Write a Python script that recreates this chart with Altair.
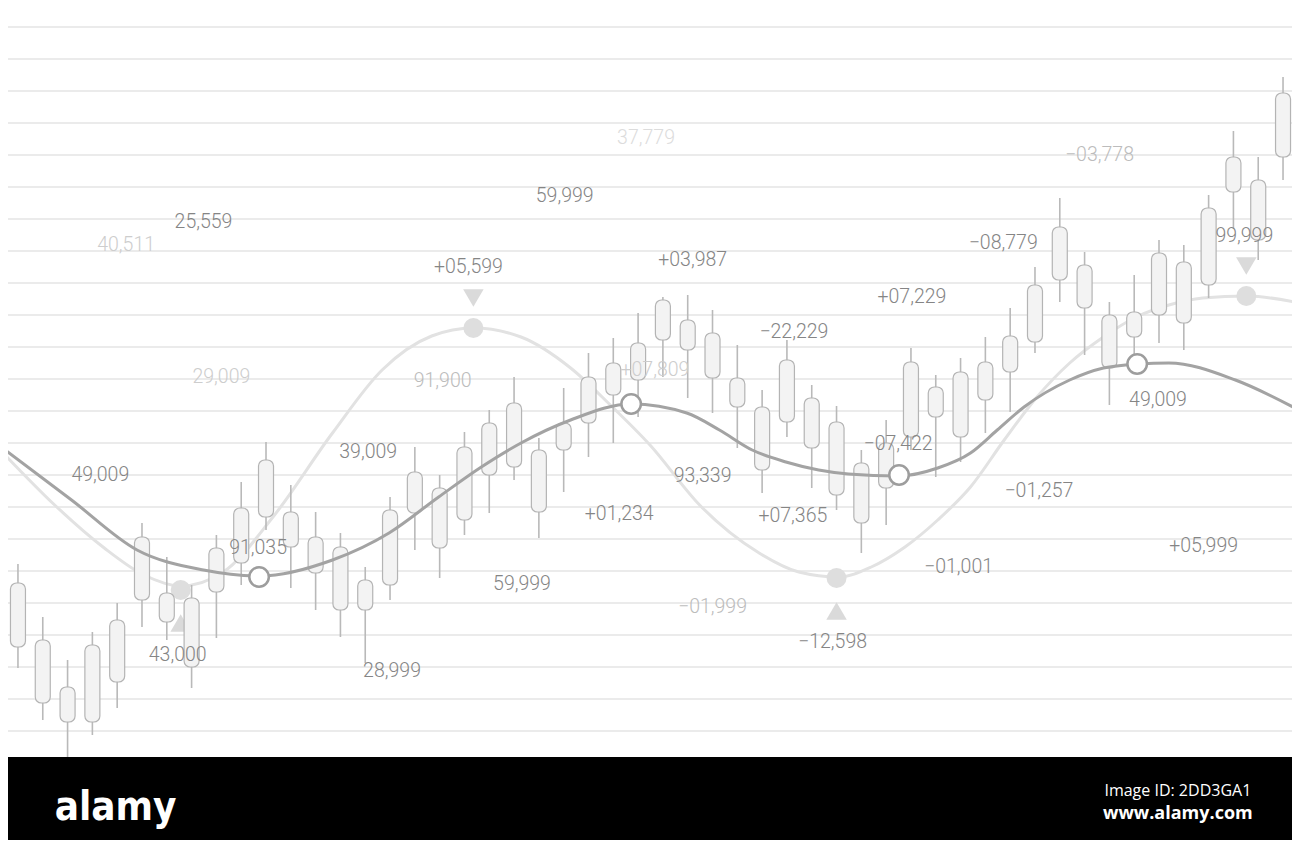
import altair as alt
import pandas as pd

# ---------------- data ----------------
# candle index (0..51); bodies and wicks in chart "level" units (as read)
CANDLE_IDX = list(range(52))
BODY_TOP = [583, 640, 687, 645, 620, 537, 593, 598, 548, 508, 460, 512, 537,
            547, 580, 510, 472, 488, 447, 423, 403, 450, 423, 377, 363, 343,
            300, 320, 333, 378, 407, 360, 398, 422, 463, 443, 362, 387, 372,
            362, 336, 285, 227, 265, 315, 312, 253, 262, 208, 157, 180, 93]
BODY_BOT = [647, 703, 722, 722, 682, 600, 622, 667, 592, 563, 517, 547, 573,
            610, 610, 585, 513, 548, 520, 475, 467, 512, 450, 423, 395, 380,
            340, 350, 378, 407, 470, 422, 448, 495, 523, 488, 437, 417, 437,
            400, 372, 342, 280, 308, 368, 337, 315, 323, 285, 192, 240, 157]
WICK_HI = [564, 617, 660, 632, 603, 523, 557, 585, 535, 482, 442, 485, 512,
           533, 567, 497, 447, 475, 432, 410, 377, 438, 388, 353, 338, 313,
           297, 295, 310, 345, 390, 340, 385, 406, 450, 420, 348, 375, 358,
           337, 308, 267, 198, 252, 302, 275, 240, 245, 195, 131, 157, 77]
WICK_LO = [668, 720, 760, 735, 708, 627, 640, 688, 638, 585, 530, 588, 610,
           637, 663, 600, 550, 578, 535, 513, 480, 538, 492, 457, 443, 417,
           377, 398, 413, 448, 493, 437, 488, 510, 553, 525, 450, 477, 462,
           433, 412, 353, 302, 355, 405, 373, 343, 350, 298, 229, 260, 180]

# moving-average curve (dark)
MA_X = [0, 67, 133, 200, 257, 330, 387, 437, 480, 520, 570, 631, 687,
        720, 753, 787, 820, 850, 900, 940, 973, 1000, 1027, 1073, 1107, 1142,
        1173, 1240, 1300]
MA_Y = [450, 500, 550, 570, 576, 560, 533, 497, 467, 443, 420, 404, 413,
        430, 450, 462, 470, 474, 476, 468, 453, 430, 407, 380, 368, 364,
        363, 380, 408]
MA_MARK_X = [256, 631, 901, 1141]
MA_MARK_Y = [577, 404, 475, 364]

# wave curve (light)
WAVE_X = [0, 50, 100, 140, 177, 220, 270, 330, 380, 430, 472, 520, 570, 610,
          650, 700, 760, 800, 840, 873, 907, 940, 973, 1007, 1040, 1073, 1107,
          1140, 1173, 1207, 1252, 1300]
WAVE_Y = [455, 505, 548, 575, 586, 572, 517, 433, 370, 336, 328, 337, 368,
          405, 445, 505, 553, 572, 577, 567, 547, 520, 487, 440, 397, 363,
          337, 317, 305, 298, 296, 302]
PEAK_X = [472, 1251]
PEAK_Y = [328, 296]
TROUGH_X = [177, 838]
TROUGH_Y = [590, 578]

GRID_Y = [27, 59, 91, 123, 155, 187, 219, 251, 283, 315, 347, 379, 411, 443,
          475, 507, 539, 571, 603, 635, 667, 699, 731]

LABELS = ["25,559", "40,511", "59,999", "37,779", "\u221203,778", "+05,599",
          "+03,987", "\u221208,779", "99,999", "+07,229", "\u221222,229",
          "29,009", "91,900", "+07,809", "39,009", "\u221207,422", "49,009",
          "93,339", "\u221201,257", "49,009", "+01,234", "+07,365", "91,035",
          "+05,999", "\u221201,001", "59,999", "\u221201,999", "43,000",
          "\u221212,598", "28,999"]
LABEL_X = [200, 122, 564, 646, 1103, 467, 693, 1006, 1249, 914, 795, 218, 441,
           655, 366, 900, 96, 703, 1042, 1162, 619, 794, 255, 1208, 961, 521,
           713, 174, 834, 390]
LABEL_Y = [222, 245, 196, 138, 155, 267, 260, 243, 236, 297, 332, 377, 381,
           370, 452, 444, 475, 476, 491, 400, 514, 516, 548, 546, 567, 584,
           607, 655, 642, 671]
LABEL_TONE = ["main", "faint", "main", "ghost", "soft", "main", "main", "main",
              "main", "main", "main", "faint", "soft", "faint", "main", "main",
              "main", "main", "main", "main", "main", "main", "main", "main",
              "main", "main", "soft", "main", "main", "main"]

BAND_X = [0, 1300]
BAND_Y = [757, 848]

# ---------------- frames ----------------
candles = pd.DataFrame({
    "x": [13 + 25 * i for i in CANDLE_IDX],
    "top": BODY_TOP, "bot": BODY_BOT, "hi": WICK_HI, "lo": WICK_LO,
})
ma = pd.DataFrame({"x": MA_X, "y": MA_Y})
ma_marks = pd.DataFrame({"x": MA_MARK_X, "y": MA_MARK_Y})
wave = pd.DataFrame({"x": WAVE_X, "y": WAVE_Y})
peaks = pd.DataFrame({"x": PEAK_X, "y": PEAK_Y, "ty": [v - 30 for v in PEAK_Y]})
troughs = pd.DataFrame({"x": TROUGH_X, "y": TROUGH_Y, "ty": [v + 33 for v in TROUGH_Y]})
grid = pd.DataFrame({"y": GRID_Y})
labels = pd.DataFrame({"t": LABELS, "x": LABEL_X, "y": LABEL_Y, "tone": LABEL_TONE})
band = pd.DataFrame({"x": [BAND_X[0]], "x2": [BAND_X[1]], "y": [BAND_Y[0]], "y2": [BAND_Y[1]]})

W, H = 1284, 832
XS = alt.Scale(domain=[8, 8 + W])
YS = alt.Scale(domain=[8, 8 + H], reverse=True)


def X(f):
    return alt.X(f, type="quantitative", scale=XS, axis=None)


def Y(f):
    return alt.Y(f, type="quantitative", scale=YS, axis=None)


grid_l = alt.Chart(grid).mark_rule(color="#ebebeb", strokeWidth=2.2).encode(y=Y("y"))

wave_l = alt.Chart(wave).mark_line(color="#e2e2e2", strokeWidth=3,
                                   interpolate="monotone").encode(x=X("x"), y=Y("y"))
peak_dot = alt.Chart(peaks).mark_point(shape="circle", filled=True, color="#dedede",
                                       size=400, opacity=1).encode(x=X("x"), y=Y("y"))
peak_tri = alt.Chart(peaks).mark_point(
    shape="triangle-down", filled=True, color="#dadada", size=420, opacity=1
).encode(x=X("x"), y=Y("ty"))
trough_dot = alt.Chart(troughs).mark_point(shape="circle", filled=True, color="#dedede",
                                           size=400, opacity=1).encode(x=X("x"), y=Y("y"))
trough_tri = alt.Chart(troughs).mark_point(
    shape="triangle-up", filled=True, color="#dadada", size=420, opacity=1
).encode(x=X("x"), y=Y("ty"))

wick_l = alt.Chart(candles).mark_rule(color="#b9b9b9", strokeWidth=1.6).encode(
    x=X("x"), y=Y("hi"), y2="lo")
body_l = alt.Chart(candles).mark_bar(size=15, cornerRadius=6, fill="#f3f3f3",
                                     stroke="#b4b4b4", strokeWidth=1.2).encode(
    x=X("x"), y=Y("top"), y2="bot")

ma_l = alt.Chart(ma).mark_line(color="#a3a3a3", strokeWidth=3,
                               interpolate="monotone").encode(x=X("x"), y=Y("y"))
ma_m = alt.Chart(ma_marks).mark_point(shape="circle", filled=True, fill="white",
                                      stroke="#9d9d9d", strokeWidth=2.5, size=380,
                                      opacity=1).encode(x=X("x"), y=Y("y"))

text_l = alt.Chart(labels).mark_text(font="Roboto", fontWeight=300, fontSize=19.5,
                                     align="center", baseline="middle").encode(
    x=X("x"), y=Y("y"), text="t:N",
    color=alt.Color("tone:N", legend=None,
                    scale=alt.Scale(domain=["main", "soft", "faint", "ghost"],
                                    range=["#858585", "#bcbcbc", "#cdcdcd", "#dcdcdc"])))

band_l = alt.Chart(band).mark_rect(color="black").encode(
    x=X("x"), x2="x2", y=Y("y"), y2="y2")
brand = alt.Chart(pd.DataFrame({"t": ["alamy"], "x": [50], "y": [820]})).mark_text(
    font="'DejaVu Sans Condensed', 'DejaVu Sans', sans-serif", fontWeight="bold",
    fontSize=40, color="white", align="left", baseline="alphabetic"
).encode(x=X("x"), y=Y("y"), text="t:N")
idtxt = alt.Chart(pd.DataFrame({"t": ["Image ID: 2DD3GA1"], "x": [1182], "y": [791]})).mark_text(
    font="Open Sans", fontSize=16, color="white", align="center", baseline="middle"
).encode(x=X("x"), y=Y("y"), text="t:N")
www = alt.Chart(pd.DataFrame({"t": ["www.alamy.com"], "x": [1182], "y": [814]})).mark_text(
    font="Open Sans", fontWeight="bold", fontSize=18, color="white", align="center",
    baseline="middle").encode(x=X("x"), y=Y("y"), text="t:N")

chart = alt.layer(
    grid_l, wave_l, peak_dot, peak_tri, trough_dot, trough_tri,
    wick_l, body_l, ma_l, ma_m, text_l, band_l, brand, idtxt, www
).properties(
    width=W, height=H, padding=0, autosize=alt.AutoSizeParams(type="none"),
    background="white"
).configure_view(stroke=None)

chart.save("out.html", embed_options={"renderer": "svg", "actions": False})
